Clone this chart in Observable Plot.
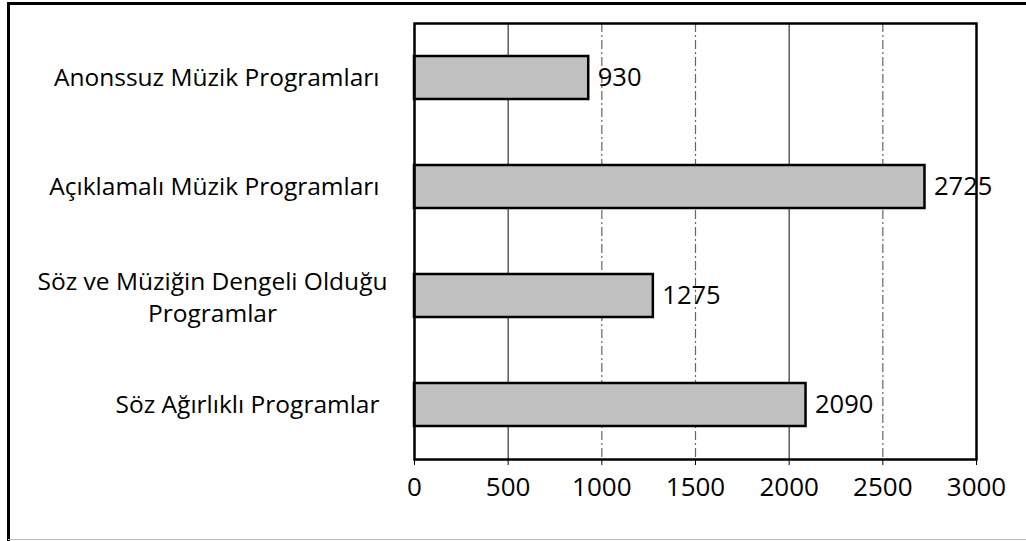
<!DOCTYPE html>
<html>
<head>
<meta charset="utf-8">
<script src="https://cdn.jsdelivr.net/npm/d3@7"></script>
<script src="https://cdn.jsdelivr.net/npm/@observablehq/plot@0.6"></script>
<style>
  html, body { margin: 0; padding: 0; background: #fff; }
  #wrap { position: relative; width: 1026px; height: 541px; overflow: hidden; font-family: "Open Sans", sans-serif; }
  #frameTop { position: absolute; left: 8px; top: 2px; width: 1018px; height: 3px; background: #000; }
  #frameLeft { position: absolute; left: 7px; top: 2px; width: 3px; height: 539px; background: #000; }
  #frameBottom { position: absolute; left: 8px; top: 539px; width: 1018px; height: 1px; background: #bbb; }
  #chart { position: absolute; left: 0; top: 0; }
</style>
</head>
<body>
<div id="wrap">
  <div id="chart"></div>
  <div id="frameTop"></div>
  <div id="frameLeft"></div>
  <div id="frameBottom"></div>
</div>
<script>
const categories = [
  "Anonssuz Müzik Programları",
  "Açıklamalı Müzik Programları",
  "Söz ve Müziğin Dengeli Olduğu\nProgramlar",
  "Söz Ağırlıklı Programlar"
];
const values = [930, 2725, 1275, 2090];
const xTicks = [0, 500, 1000, 1500, 2000, 2500, 3000];
const solidGrid = [500, 2000];
const dashedGrid = [1000, 1500, 2500];

const data = categories.map((c, i) => ({cat: c, value: values[i]}));
const single = data.filter(d => !d.cat.includes("\n"));
const wrapped = data.filter(d => d.cat.includes("\n"));

const chart = Plot.plot({
  width: 1026,
  height: 510,
  marginLeft: 414,
  marginRight: 50,
  marginTop: 23,
  marginBottom: 51,
  style: {fontFamily: "Open Sans, sans-serif", background: "transparent", overflow: "visible"},
  x: {domain: [0, 3000], ticks: xTicks, label: null},
  y: {domain: categories, padding: 0, axis: null},
  marks: [
    Plot.ruleX(dashedGrid, {stroke: "#666", strokeWidth: 1.2, strokeDasharray: "9,3,2,3"}),
    Plot.ruleX(solidGrid, {stroke: "#333", strokeWidth: 1.2}),
    Plot.barX(data, {y: "cat", x: "value", fill: "#c0c0c0", stroke: "#000", strokeWidth: 2.5, insetTop: 33, insetBottom: 33}),
    Plot.text(data, {y: "cat", x: "value", text: d => String(d.value), textAnchor: "start", dx: 9, fontSize: 25.5, fill: "#000"}),
    Plot.text(single, {y: "cat", text: "cat", frameAnchor: "left", textAnchor: "end", dx: -35, fontSize: 24.5, fill: "#000"}),
    Plot.text(wrapped, {y: "cat", text: "cat", frameAnchor: "left", textAnchor: "middle", dx: -202, fontSize: 24.5, lineHeight: 1.27, fill: "#000"}),
    Plot.frame({stroke: "#000", strokeWidth: 2.5}),
    Plot.axisX({ticks: xTicks, tickSize: 6, tickPadding: 12, fontSize: 26, tickFormat: d => String(d), stroke: "#000", fill: "#000", label: null})
  ]
});
document.getElementById("chart").appendChild(chart);
</script>
</body>
</html>
